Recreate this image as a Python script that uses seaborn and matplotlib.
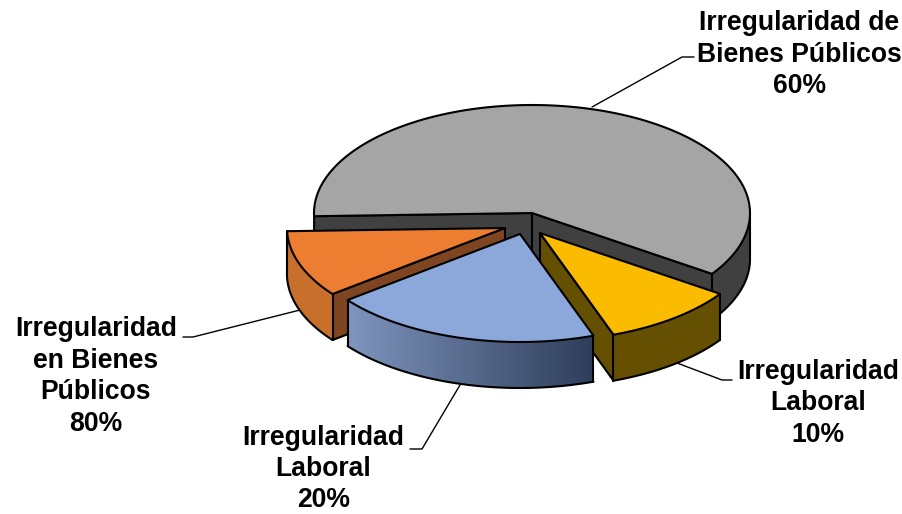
import numpy as np
import matplotlib
matplotlib.use("Agg")
import matplotlib.pyplot as plt
from matplotlib.colors import LinearSegmentedColormap
from matplotlib.patches import Polygon
import seaborn as sns

# ---- data ----
names = ["Irregularidad de\nBienes Públicos", "Irregularidad\nLaboral",
         "Irregularidad\nLaboral", "Irregularidad\nen Bienes\nPúblicos"]
slice_share = [60, 10, 20, 10]      # size of each drawn slice
printed_pct = [60, 10, 20, 80]      # percentage as printed in the labels
top_colors = ["#A5A5A5", "#FBBC00", "#8CA8DA", "#ED7D31"]
wall_colors = ["#404040", "#654F00", "#5A6E96", "#7F4420"]

sns.set_theme(style="white")
plt.rcParams["font.family"] = ["Liberation Sans", "DejaVu Sans"]

fig = plt.figure(figsize=(9.03, 5.14), dpi=100)
ax = fig.add_axes([0, 0, 1, 1])
ax.set_xlim(0, 903)
ax.set_ylim(514, 0)
ax.axis("off")

# pie geometry on the page
CX, CY, RX, RY, DEPTH = 532, 213, 218, 108, 46
START = 181.7
OFFSETS = [(0, 0), (8, 20), (-12, 21), (-27, 15)]
LW = 1.5

fractions = np.array(slice_share) / sum(slice_share)
ends = START - 360 * np.cumsum(fractions)
starts = np.r_[START, ends[:-1]]


def rim(a0, a1, ox, oy, n=120):
    t = np.radians(np.linspace(a0, a1, n))
    return CX + ox + RX * np.cos(t), CY + oy - RY * np.sin(t)


def poly(x, y, fc, z):
    ax.fill(x, y, facecolor=fc, edgecolor="black", linewidth=LW,
            joinstyle="round", zorder=z)


def flat_wall(px, py, qx, qy, fc, z):
    poly([px, qx, qx, px], [py, qy, qy + DEPTH, py + DEPTH], fc, z)


def outer_wall(a0, a1, ox, oy, colors, z):
    """Rim wall from angle a0 to a1; colors is one colour or (left, right) gradient."""
    x, y = rim(a0, a1, ox, oy)
    vx, vy = np.r_[x, x[::-1]], np.r_[y, y[::-1] + DEPTH]
    if isinstance(colors, tuple):
        cmap = LinearSegmentedColormap.from_list("wall", list(colors))
        clip = Polygon(np.c_[vx, vy], closed=True, transform=ax.transData)
        im = ax.imshow(np.linspace(0, 1, 256)[None, :], cmap=cmap, aspect="auto",
                       extent=(x.min(), x.max(), vy.max(), vy.min()), zorder=z,
                       interpolation="bilinear")
        im.set_clip_path(clip)
        ax.set_xlim(0, 903)
        ax.set_ylim(514, 0)
    else:
        ax.fill(vx, vy, facecolor=colors, edgecolor="none", linewidth=0, zorder=z)
    ax.plot(x, y + DEPTH, color="black", lw=LW, zorder=z + .1)
    ax.plot([x[0], x[0]], [y[0], y[0] + DEPTH], color="black", lw=LW, zorder=z + .1)
    ax.plot([x[-1], x[-1]], [y[-1], y[-1] + DEPTH], color="black", lw=LW, zorder=z + .1)


def top_face(a0, a1, ox, oy, fc, z):
    x, y = rim(a0, a1, ox, oy)
    poly(np.r_[CX + ox, x], np.r_[CY + oy, y], fc, z)


def corner(a, ox, oy):
    x, y = rim(a, a, ox, oy, n=1)
    return x[0], y[0]


# gray slice
a0, a1 = starts[0], ends[0]
ox, oy = OFFSETS[0]
cl = corner(a0, ox, oy)
cr = corner(a1, ox, oy)
flat_wall(CX, CY, cl[0], cl[1], wall_colors[0], 1)
flat_wall(CX, CY, cr[0], cr[1], wall_colors[0], 1)
outer_wall(0, a1, ox, oy, wall_colors[0], 1)
top_face(a0, a1, ox, oy, top_colors[0], 2)

# yellow slice
a0, a1 = starts[1], ends[1]
ox, oy = OFFSETS[1]
c = corner(a1, ox, oy)
flat_wall(CX + ox, CY + oy, c[0], c[1], wall_colors[1], 3)
outer_wall(a1, a0, ox, oy, wall_colors[1], 3)
top_face(a0, a1, ox, oy, top_colors[1], 4)

# orange slice
a0, a1 = starts[3], ends[3]
ox, oy = OFFSETS[3]
c = corner(a0, ox, oy)
flat_wall(CX + ox, CY + oy, c[0], c[1], wall_colors[3], 5)
outer_wall(a1, a0, ox, oy, "#C96F2C", 5)
top_face(a0, a1, ox, oy, top_colors[3], 6)

# blue slice
a0, a1 = starts[2], ends[2]
ox, oy = OFFSETS[2]
outer_wall(a1, a0, ox, oy, ("#7F95BE", "#2E3D5A"), 7)
top_face(a0, a1, ox, oy, top_colors[2], 8)

# leader lines and labels
leaders = [([592, 682, 694], [107, 57, 57]),
           ([677, 722, 732], [363, 380, 380]),
           ([460, 422, 410], [385, 449, 449]),
           ([300, 193, 183], [310, 337, 337])]
label_pos = [(799.5, 54.5), (818, 403.5), (323.5, 469), (96, 376.5)]
for i, (lx, ly) in enumerate(leaders):
    ax.plot(lx, ly, color="black", lw=1.0, zorder=0.5)
    ax.text(*label_pos[i], f"{names[i]}\n{printed_pct[i]}%", ha="center", va="center",
            multialignment="center", fontsize=19.1, fontweight="bold", color="black",
            linespacing=1.27, zorder=10)

fig.savefig("out.png", dpi=100, facecolor="white")
